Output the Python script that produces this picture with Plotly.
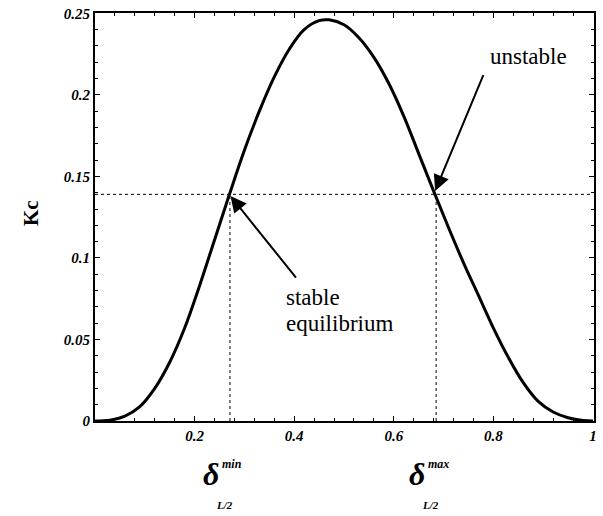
import plotly.graph_objects as go

# Curve
delta = [0.0, 0.03, 0.06, 0.09, 0.12, 0.15, 0.18, 0.21, 0.24, 0.27, 0.30, 0.33, 0.36,
         0.39, 0.42, 0.45, 0.47, 0.50, 0.53, 0.56, 0.59, 0.62, 0.65, 0.68, 0.71, 0.74,
         0.77, 0.80, 0.83, 0.86, 0.89, 0.92, 0.95, 0.98, 1.0]
kc = [0.0, 0.0005, 0.003, 0.0088, 0.020, 0.036, 0.057, 0.083, 0.111, 0.139, 0.166, 0.190,
      0.211, 0.228, 0.240, 0.2455, 0.246, 0.243, 0.235, 0.223, 0.207, 0.187, 0.164, 0.141,
      0.1185, 0.097, 0.077, 0.057, 0.039, 0.0235, 0.012, 0.0055, 0.002, 0.0003, 0.0]

kc_eq = 0.139
delta_min = 0.271
delta_max = 0.685

y_ticks = [0, 0.05, 0.1, 0.15, 0.2, 0.25]
y_labels = ["0", "0.05", "0.1", "0.15", "0.2", "0.25"]
x_ticks = [0.2, 0.4, 0.6, 0.8, 1.0]
x_labels = ["0.2", "0.4", "0.6", "0.8", "1"]

SERIF = "Liberation Serif, Times New Roman, serif"

fig = go.Figure()
fig.add_trace(go.Scatter(x=delta, y=kc, mode="lines",
                         line=dict(color="black", width=3, shape="spline", smoothing=1.0),
                         showlegend=False, hoverinfo="skip"))
fig.add_trace(go.Scatter(x=[0, 1], y=[kc_eq, kc_eq], mode="lines",
                         line=dict(color="black", width=1, dash="dot"), showlegend=False))
fig.add_trace(go.Scatter(x=[delta_min, delta_min], y=[0, kc_eq], mode="lines",
                         line=dict(color="black", width=1, dash="dot"), showlegend=False))
fig.add_trace(go.Scatter(x=[delta_max, delta_max], y=[0, kc_eq], mode="lines",
                         line=dict(color="black", width=1, dash="dot"), showlegend=False))

axis_common = dict(showline=True, linecolor="black", linewidth=2, mirror="ticks",
                   ticks="inside", ticklen=5, tickcolor="black", showgrid=False, zeroline=False,
                   ticklabeloverflow="allow",
                   tickfont=dict(family=SERIF, size=15, color="black", weight="bold", style="italic"))

fig.update_xaxes(range=[0, 1.002], tickvals=x_ticks, ticktext=x_labels,
                 minor=dict(dtick=0.04, ticks="inside", ticklen=3, tickcolor="black"),
                 **axis_common)
fig.update_yaxes(range=[0, 0.2502], tickvals=y_ticks, ticktext=y_labels,
                 minor=dict(dtick=0.01, ticks="inside", ticklen=3, tickcolor="black"),
                 **axis_common)

anns = []
# arrows
anns.append(dict(x=0.683, y=kc_eq + 0.002, ax=0.781, ay=0.213, xref="x", yref="y", axref="x", ayref="y",
                 showarrow=True, arrowhead=2, arrowsize=1.6, arrowwidth=2, arrowcolor="black", text=""))
anns.append(dict(x=0.272, y=kc_eq - 0.001, ax=0.406, ay=0.087, xref="x", yref="y", axref="x", ayref="y",
                 showarrow=True, arrowhead=2, arrowsize=1.6, arrowwidth=2, arrowcolor="black", text=""))
# labels
anns.append(dict(x=0.790, y=0.2235, xref="x", yref="y", text="unstable", showarrow=False,
                 xanchor="left", yanchor="middle", font=dict(family=SERIF, size=23, color="black")))
anns.append(dict(x=0.380, y=0.0760, xref="x", yref="y", text="stable", showarrow=False,
                 xanchor="left", yanchor="middle", font=dict(family=SERIF, size=23, color="black")))
anns.append(dict(x=0.380, y=0.0600, xref="x", yref="y", text="equilibrium", showarrow=False,
                 xanchor="left", yanchor="middle", font=dict(family=SERIF, size=23, color="black")))
anns.append(dict(x=-0.128, y=0.51, xref="x domain", yref="paper", text="Kc", showarrow=False, textangle=-90,
                 xanchor="center", yanchor="middle", font=dict(family=SERIF, size=21, color="black", weight="bold")))
for xv, sup in [(delta_min, "min"), (delta_max, "max")]:
    anns.append(dict(x=xv - 0.018, y=-0.13, xref="x", yref="paper", text="δ", showarrow=False,
                     xanchor="right", yanchor="middle",
                     font=dict(family=SERIF, size=32, color="black", weight="bold", style="italic")))
    anns.append(dict(x=xv - 0.021, y=-0.105, xref="x", yref="paper", text=sup, showarrow=False,
                     xanchor="left", yanchor="middle",
                     font=dict(family=SERIF, size=12, color="black", weight="bold", style="italic")))
    anns.append(dict(x=xv - 0.011, y=-0.205, xref="x", yref="paper", text="L/2", showarrow=False,
                     xanchor="center", yanchor="middle",
                     font=dict(family=SERIF, size=11, color="black", weight="bold", style="italic")))

fig.update_layout(width=603, height=516, margin=dict(l=95, r=6, t=12, b=95),
                  paper_bgcolor="white", plot_bgcolor="white", annotations=anns)

fig.write_html("out.html", config={"displayModeBar": False},
               post_script="document.body.style.margin='0';document.body.style.overflow='hidden';")
